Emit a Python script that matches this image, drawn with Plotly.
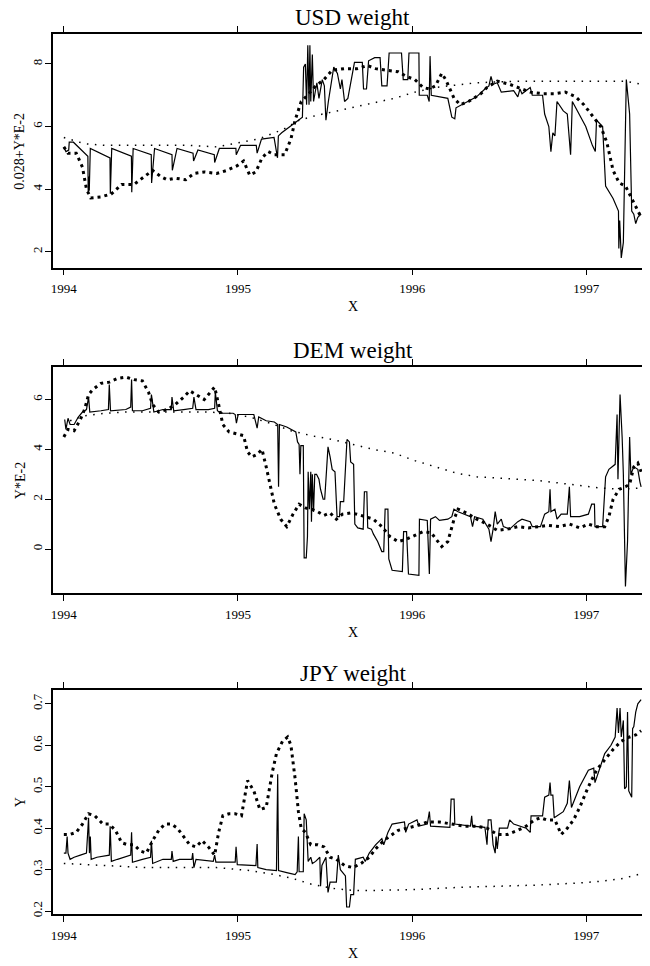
import plotly.graph_objects as go

# ---- USD panel ----
usd_t = [1994.000, 1994.012, 1994.028, 1994.031, 1994.055, 1994.138, 1994.140, 1994.143, 1994.146, 1994.152,
         1994.265, 1994.267, 1994.275, 1994.388, 1994.390, 1994.398, 1994.502, 1994.504, 1994.521, 1994.621,
         1994.623, 1994.650, 1994.742, 1994.745, 1994.770, 1994.864, 1994.866, 1994.893, 1994.988, 1994.990,
         1995.015, 1995.105, 1995.110, 1995.135, 1995.207, 1995.227, 1995.232, 1995.251, 1995.299, 1995.370,
         1995.377, 1995.387, 1995.394, 1995.401, 1995.408, 1995.413, 1995.418, 1995.427, 1995.434, 1995.453,
         1995.465, 1995.484, 1995.496, 1995.505, 1995.519, 1995.536, 1995.550, 1995.571, 1995.588, 1995.597,
         1995.612, 1995.631, 1995.650, 1995.669, 1995.714, 1995.721, 1995.738, 1995.750, 1995.785, 1995.816,
         1995.826, 1995.856, 1995.868, 1995.939, 1995.949, 1995.975, 1995.982, 1996.039, 1996.041, 1996.087,
         1996.098, 1996.103, 1996.110, 1996.157, 1996.205, 1996.228, 1996.245, 1996.252, 1996.299, 1996.347,
         1996.370, 1996.418, 1996.441, 1996.453, 1996.465, 1996.489, 1996.512, 1996.583, 1996.607, 1996.619,
         1996.631, 1996.678, 1996.690, 1996.749, 1996.761, 1996.785, 1996.797, 1996.808, 1996.820, 1996.832,
         1996.868, 1996.891, 1996.910, 1996.920, 1996.950, 1996.997, 1997.035, 1997.052, 1997.059, 1997.094,
         1997.111, 1997.154, 1997.185, 1997.187, 1997.192, 1997.201, 1997.213, 1997.230, 1997.249, 1997.261,
         1997.273, 1997.284, 1997.296, 1997.315]
usd_y = [5.35, 5.2, 5.25, 5.5, 5.5, 5.05, 3.9, 4.4, 3.95, 5.3,
         5.0, 3.85, 5.3, 5.05, 3.9, 5.3, 5.1, 4.2, 5.3, 5.1,
         4.6, 5.3, 5.15, 4.9, 5.25, 5.1, 4.85, 5.3, 5.3, 5.1,
         5.4, 5.4, 5.15, 5.6, 5.65, 5.0, 5.7, 5.8, 6.0, 6.3,
         7.9, 8.0, 6.7, 8.6, 6.7, 8.6, 6.8, 8.3, 6.8, 7.4,
         6.9, 7.5, 7.3, 6.2, 6.8, 7.4, 7.9, 7.7, 7.2, 7.5,
         6.8, 6.9, 7.5, 8.05, 8.05, 7.2, 7.2, 8.1, 8.2, 8.2,
         7.3, 7.3, 8.35, 8.35, 7.5, 7.5, 8.35, 8.35, 7.0, 7.0,
         6.8, 8.25, 7.0, 6.95, 6.9, 6.3, 6.25, 6.6, 6.75, 6.9,
         6.95, 7.2, 7.3, 7.6, 7.35, 7.4, 7.1, 7.15, 6.95, 7.2,
         7.05, 7.25, 7.0, 7.0, 6.4, 6.0, 5.2, 5.8, 5.7, 6.8,
         6.5, 6.4, 5.1, 6.8, 6.5, 6.0, 5.4, 5.2, 6.2, 6.0,
         4.1, 3.7, 3.3, 2.1, 3.0, 1.8, 2.3, 7.5, 6.4, 3.3,
         3.2, 2.9, 3.1, 3.2]

usd_smooth_t = [1994.000, 1994.024, 1994.071, 1994.107, 1994.130, 1994.154, 1994.213, 1994.273, 1994.332, 1994.403,
                1994.462, 1994.510, 1994.557, 1994.593, 1994.640, 1994.700, 1994.747, 1994.806, 1994.877, 1994.937,
                1994.996, 1995.032, 1995.067, 1995.103, 1995.138, 1995.174, 1995.209, 1995.268, 1995.304, 1995.328,
                1995.363, 1995.399, 1995.446, 1995.494, 1995.541, 1995.612, 1995.683, 1995.743, 1995.790, 1995.849,
                1995.920, 1995.968, 1996.016, 1996.063, 1996.099, 1996.134, 1996.170, 1996.193, 1996.217, 1996.241,
                1996.276, 1996.324, 1996.395, 1996.430, 1996.489, 1996.560, 1996.631, 1996.678, 1996.749, 1996.820,
                1996.880, 1996.939, 1996.986, 1997.035, 1997.083, 1997.118, 1997.154, 1997.189, 1997.225, 1997.261,
                1997.296, 1997.315]
usd_smooth_y = [5.35, 5.15, 5.15, 4.7, 4.0, 3.72, 3.75, 3.85, 4.15, 4.15,
                4.4, 4.6, 4.4, 4.3, 4.35, 4.3, 4.5, 4.55, 4.5, 4.6,
                4.75, 4.9, 4.45, 4.55, 5.0, 5.2, 5.1, 5.1, 5.6, 6.2,
                6.8, 7.0, 7.3, 7.5, 7.8, 7.85, 7.85, 7.95, 7.85, 7.8,
                7.75, 7.6, 7.5, 7.25, 7.2, 7.3, 7.7, 7.5, 7.2, 6.9,
                6.7, 6.8, 7.05, 7.25, 7.45, 7.35, 7.2, 7.1, 7.05, 7.05,
                7.1, 6.95, 6.7, 6.35, 6.0, 5.5, 4.6, 4.2, 4.1, 3.7,
                3.3, 3.1]

usd_trend_t = [1994.000, 1994.119, 1994.237, 1994.474, 1994.711, 1994.877, 1994.972, 1995.116, 1995.256, 1995.351,
               1995.446, 1995.659, 1995.896, 1996.016, 1996.134, 1996.371, 1996.608, 1996.845, 1997.082, 1997.225,
               1997.315]
usd_trend_y = [5.65, 5.45, 5.4, 5.4, 5.4, 5.35, 5.45, 5.6, 5.9, 6.2,
               6.35, 6.6, 6.9, 7.1, 7.25, 7.4, 7.45, 7.45, 7.45, 7.45,
               7.35]

# ---- DEM panel ----
dem_t = [1994.005, 1994.012, 1994.024, 1994.036, 1994.059, 1994.083, 1994.107, 1994.130, 1994.142, 1994.149,
         1994.213, 1994.256, 1994.261, 1994.268, 1994.356, 1994.384, 1994.389, 1994.394, 1994.451, 1994.498,
         1994.503, 1994.517, 1994.569, 1994.617, 1994.621, 1994.631, 1994.688, 1994.740, 1994.747, 1994.759,
         1994.830, 1994.866, 1994.870, 1994.882, 1994.901, 1994.972, 1994.984, 1994.991, 1995.001, 1995.091,
         1995.110, 1995.119, 1995.162, 1995.209, 1995.228, 1995.233, 1995.238, 1995.280, 1995.332, 1995.342,
         1995.351, 1995.356, 1995.361, 1995.375, 1995.380, 1995.392, 1995.399, 1995.403, 1995.410, 1995.418,
         1995.422, 1995.427, 1995.434, 1995.441, 1995.451, 1995.465, 1995.474, 1995.489, 1995.498, 1995.508,
         1995.517, 1995.529, 1995.541, 1995.557, 1995.569, 1995.583, 1995.588, 1995.607, 1995.616, 1995.626,
         1995.640, 1995.647, 1995.664, 1995.671, 1995.688, 1995.719, 1995.726, 1995.740, 1995.745, 1995.766,
         1995.778, 1995.802, 1995.826, 1995.837, 1995.845, 1995.861, 1995.866, 1995.885, 1995.944, 1995.951,
         1995.968, 1995.979, 1996.039, 1996.042, 1996.087, 1996.099, 1996.106, 1996.134, 1996.157, 1996.205,
         1996.228, 1996.240, 1996.264, 1996.299, 1996.335, 1996.347, 1996.359, 1996.406, 1996.441, 1996.453,
         1996.465, 1996.477, 1996.489, 1996.512, 1996.524, 1996.560, 1996.607, 1996.631, 1996.678, 1996.690,
         1996.737, 1996.761, 1996.785, 1996.792, 1996.797, 1996.820, 1996.832, 1996.856, 1996.891, 1996.903,
         1996.910, 1996.962, 1997.012, 1997.031, 1997.047, 1997.050, 1997.094, 1997.111, 1997.130, 1997.166,
         1997.177, 1997.182, 1997.194, 1997.206, 1997.213, 1997.225, 1997.237, 1997.249, 1997.256, 1997.273,
         1997.296, 1997.308, 1997.315]
dem_y = [5.2, 4.8, 5.25, 5.0, 5.0, 5.3, 5.5, 5.6, 6.1, 5.5,
         5.55, 5.6, 6.6, 5.55, 5.6, 5.7, 6.8, 5.55, 5.55, 5.65,
         6.2, 5.5, 5.6, 5.6, 6.1, 5.55, 5.6, 5.65, 6.1, 5.6,
         5.6, 5.65, 6.3, 5.55, 5.45, 5.45, 5.4, 5.05, 5.4, 5.4,
         4.85, 5.3, 5.15, 5.1, 5.0, 2.5, 5.0, 4.9, 4.7, 4.3,
         4.2, 3.0, 4.15, 4.15, -0.35, -0.35, 0.5, 3.1, 1.6, 3.1,
         1.1, 3.0, 1.5, 3.0, 3.0, 2.8, 2.4, 2.0, 2.0, 3.0,
         4.1, 3.7, 3.2, 3.1, 1.3, 1.3, 1.9, 1.9, 3.3, 4.4,
         4.3, 3.5, 3.4, 1.0, 0.85, 0.8, 2.3, 2.3, 0.85, 0.8,
         0.6, 0.3, -0.1, -0.1, 1.6, 1.6, -0.4, -0.85, -0.9, 0.7,
         0.7, -1.0, -1.05, 1.2, 1.15, -1.0, 1.2, 1.3, 1.15, 1.2,
         1.3, 1.6, 1.5, 1.4, 1.3, 0.9, 1.3, 1.2, 0.8, 0.3,
         0.8, 1.5, 1.0, 1.2, 0.9, 0.8, 1.1, 1.2, 1.1, 0.9,
         0.9, 1.4, 1.5, 2.4, 1.5, 1.6, 1.2, 1.4, 1.4, 2.5,
         1.3, 1.3, 1.4, 1.8, 1.8, 0.9, 0.9, 2.9, 3.2, 3.4,
         5.4, 2.8, 6.2, 4.5, 3.0, -1.5, 0.3, 4.5, 3.0, 3.3,
         3.2, 2.7, 2.5]

dem_smooth_t = [1994.000, 1994.024, 1994.059, 1994.095, 1994.119, 1994.142, 1994.166, 1994.213, 1994.261, 1994.308,
                1994.356, 1994.403, 1994.451, 1994.486, 1994.510, 1994.545, 1994.593, 1994.640, 1994.688, 1994.723,
                1994.759, 1994.806, 1994.842, 1994.866, 1994.889, 1994.913, 1994.949, 1994.996, 1995.032, 1995.055,
                1995.079, 1995.110, 1995.138, 1995.162, 1995.186, 1995.209, 1995.245, 1995.280, 1995.316, 1995.351,
                1995.387, 1995.422, 1995.458, 1995.494, 1995.529, 1995.565, 1995.600, 1995.648, 1995.683, 1995.731,
                1995.778, 1995.826, 1995.873, 1995.920, 1995.968, 1996.016, 1996.063, 1996.110, 1996.146, 1996.170,
                1996.205, 1996.241, 1996.264, 1996.312, 1996.371, 1996.430, 1996.489, 1996.548, 1996.607, 1996.667,
                1996.726, 1996.785, 1996.845, 1996.904, 1996.963, 1997.012, 1997.059, 1997.106, 1997.130, 1997.154,
                1997.189, 1997.225, 1997.249, 1997.273, 1997.296, 1997.315]
dem_smooth_y = [4.5, 4.8, 4.75, 5.2, 5.6, 6.2, 6.4, 6.65, 6.7, 6.85,
                6.9, 6.8, 6.75, 6.3, 5.8, 5.5, 5.6, 5.8, 6.1, 6.35,
                6.2, 6.0, 6.3, 6.5, 5.8, 5.0, 4.7, 4.6, 4.55, 3.9,
                3.7, 3.8, 4.0, 3.3, 2.5, 1.8, 1.2, 0.9, 1.4, 1.8,
                1.65, 1.6, 1.5, 1.35, 1.45, 1.2, 1.4, 1.45, 1.4, 1.3,
                1.2, 0.9, 0.5, 0.3, 0.4, 0.55, 0.7, 0.65, 0.3, 0.1,
                0.3, 1.2, 1.6, 1.45, 1.2, 1.0, 0.75, 0.8, 0.9, 0.85,
                0.9, 0.95, 0.9, 1.0, 0.85, 1.0, 0.9, 0.9, 1.3, 2.0,
                2.4, 2.5, 2.6, 3.3, 3.45, 3.1]

dem_trend_t = [1994.036, 1994.119, 1994.237, 1994.356, 1994.593, 1994.830, 1994.949, 1995.067, 1995.186, 1995.304,
               1995.422, 1995.541, 1995.659, 1995.778, 1995.896, 1996.016, 1996.134, 1996.252, 1996.371, 1996.489,
               1996.607, 1996.726, 1996.845, 1996.963, 1997.082, 1997.201, 1997.315]
dem_trend_y = [5.15, 5.35, 5.45, 5.5, 5.5, 5.5, 5.45, 5.3, 5.05, 4.75,
               4.55, 4.4, 4.2, 4.0, 3.85, 3.55, 3.3, 3.05, 2.9, 2.85,
               2.8, 2.75, 2.65, 2.55, 2.45, 2.4, 2.45]

# ---- JPY panel ----
jpy_t = [1994.000, 1994.012, 1994.019, 1994.024, 1994.036, 1994.059, 1994.095, 1994.130, 1994.142, 1994.147,
         1994.152, 1994.157, 1994.190, 1994.261, 1994.266, 1994.273, 1994.308, 1994.384, 1994.389, 1994.394,
         1994.451, 1994.498, 1994.503, 1994.510, 1994.569, 1994.617, 1994.621, 1994.628, 1994.664, 1994.735,
         1994.740, 1994.747, 1994.759, 1994.858, 1994.866, 1994.873, 1994.984, 1994.989, 1994.996, 1995.103,
         1995.110, 1995.114, 1995.162, 1995.221, 1995.228, 1995.233, 1995.280, 1995.328, 1995.340, 1995.347,
         1995.351, 1995.375, 1995.380, 1995.392, 1995.403, 1995.418, 1995.427, 1995.446, 1995.470, 1995.474,
         1995.482, 1995.505, 1995.517, 1995.529, 1995.565, 1995.576, 1995.588, 1995.617, 1995.624, 1995.640,
         1995.648, 1995.664, 1995.674, 1995.719, 1995.731, 1995.754, 1995.790, 1995.826, 1995.837, 1995.861,
         1995.885, 1995.956, 1995.963, 1995.980, 1996.028, 1996.039, 1996.087, 1996.099, 1996.106, 1996.217,
         1996.224, 1996.241, 1996.245, 1996.335, 1996.342, 1996.347, 1996.418, 1996.430, 1996.437, 1996.453,
         1996.465, 1996.477, 1996.482, 1996.489, 1996.501, 1996.548, 1996.560, 1996.583, 1996.655, 1996.678,
         1996.683, 1996.749, 1996.761, 1996.785, 1996.792, 1996.797, 1996.808, 1996.816, 1996.868, 1996.891,
         1996.903, 1996.915, 1996.962, 1997.012, 1997.043, 1997.050, 1997.106, 1997.142, 1997.166, 1997.177,
         1997.185, 1997.194, 1997.201, 1997.213, 1997.220, 1997.230, 1997.237, 1997.244, 1997.261, 1997.266,
         1997.273, 1997.284, 1997.296, 1997.315]
jpy_y = [0.34, 0.34, 0.38, 0.34, 0.325, 0.33, 0.335, 0.34, 0.425, 0.34,
         0.38, 0.325, 0.33, 0.335, 0.405, 0.32, 0.325, 0.335, 0.39, 0.318,
         0.325, 0.33, 0.37, 0.315, 0.325, 0.325, 0.345, 0.32, 0.325, 0.325,
         0.34, 0.305, 0.325, 0.32, 0.335, 0.318, 0.318, 0.355, 0.312, 0.31,
         0.362, 0.305, 0.3, 0.298, 0.53, 0.298, 0.293, 0.288, 0.295, 0.38,
         0.295, 0.295, 0.435, 0.42, 0.32, 0.33, 0.315, 0.32, 0.33, 0.26,
         0.31, 0.33, 0.245, 0.27, 0.27, 0.335, 0.3, 0.285, 0.21, 0.21,
         0.24, 0.24, 0.325, 0.33, 0.32, 0.34, 0.36, 0.375, 0.36, 0.39,
         0.41, 0.415, 0.39, 0.41, 0.42, 0.405, 0.41, 0.44, 0.405, 0.402,
         0.47, 0.47, 0.41, 0.405, 0.43, 0.405, 0.402, 0.36, 0.42, 0.42,
         0.36, 0.34, 0.38, 0.35, 0.4, 0.4, 0.42, 0.41, 0.4, 0.39,
         0.43, 0.43, 0.475, 0.48, 0.51, 0.48, 0.48, 0.425, 0.44, 0.46,
         0.515, 0.45, 0.5, 0.54, 0.545, 0.51, 0.58, 0.6, 0.62, 0.69,
         0.63, 0.69, 0.62, 0.66, 0.495, 0.5, 0.68, 0.49, 0.475, 0.64,
         0.645, 0.68, 0.7, 0.71]

jpy_smooth_t = [1994.000, 1994.036, 1994.071, 1994.107, 1994.142, 1994.178, 1994.225, 1994.261, 1994.296, 1994.332,
                1994.368, 1994.403, 1994.439, 1994.474, 1994.510, 1994.545, 1994.581, 1994.617, 1994.652, 1994.688,
                1994.723, 1994.759, 1994.794, 1994.830, 1994.866, 1994.889, 1994.913, 1994.949, 1994.984, 1995.020,
                1995.055, 1995.091, 1995.126, 1995.162, 1995.197, 1995.221, 1995.256, 1995.285, 1995.304, 1995.328,
                1995.347, 1995.363, 1995.387, 1995.418, 1995.458, 1995.494, 1995.529, 1995.565, 1995.612, 1995.660,
                1995.707, 1995.754, 1995.790, 1995.837, 1995.873, 1995.920, 1995.968, 1996.016, 1996.087, 1996.157,
                1996.228, 1996.299, 1996.371, 1996.430, 1996.489, 1996.548, 1996.607, 1996.655, 1996.702, 1996.737,
                1996.773, 1996.820, 1996.856, 1996.891, 1996.927, 1996.962, 1997.012, 1997.059, 1997.106, 1997.154,
                1997.201, 1997.249, 1997.284, 1997.315]
jpy_smooth_y = [0.385, 0.385, 0.39, 0.41, 0.435, 0.43, 0.41, 0.41, 0.395, 0.365,
                0.36, 0.36, 0.345, 0.34, 0.37, 0.395, 0.41, 0.41, 0.4, 0.38,
                0.36, 0.355, 0.37, 0.355, 0.335, 0.39, 0.43, 0.435, 0.435, 0.43,
                0.515, 0.49, 0.445, 0.45, 0.535, 0.58, 0.61, 0.62, 0.6, 0.52,
                0.44, 0.4, 0.39, 0.36, 0.36, 0.355, 0.33, 0.325, 0.31, 0.305,
                0.315, 0.33, 0.35, 0.37, 0.38, 0.395, 0.4, 0.405, 0.415, 0.415,
                0.41, 0.405, 0.405, 0.4, 0.385, 0.385, 0.395, 0.405, 0.42, 0.425,
                0.42, 0.42, 0.385, 0.4, 0.42, 0.45, 0.5, 0.54, 0.565, 0.59,
                0.61, 0.62, 0.625, 0.635]

jpy_trend_t = [1994.000, 1994.237, 1994.474, 1994.711, 1994.877, 1995.067, 1995.186, 1995.304, 1995.422, 1995.541,
               1995.659, 1995.778, 1996.016, 1996.252, 1996.489, 1996.726, 1996.963, 1997.082, 1997.201, 1997.315]
jpy_trend_y = [0.315, 0.31, 0.305, 0.305, 0.305, 0.298, 0.29, 0.28, 0.265, 0.255,
               0.25, 0.25, 0.252, 0.257, 0.26, 0.263, 0.268, 0.272, 0.278, 0.29]

titles = ["USD weight", "DEM weight", "JPY weight"]
ylabels = ["0.028+Y*E-2", "Y*E-2", "Y"]
year_ticks = [1994, 1995, 1996, 1997]
panels = [
    (usd_t, usd_y, usd_smooth_t, usd_smooth_y, usd_trend_t, usd_trend_y, [2, 4, 6, 8], [1.49, 8.96]),
    (dem_t, dem_y, dem_smooth_t, dem_smooth_y, dem_trend_t, dem_trend_y, [0, 2, 4, 6], [-1.77, 7.3]),
    (jpy_t, jpy_y, jpy_smooth_t, jpy_smooth_y, jpy_trend_t, jpy_trend_y,
     [0.2, 0.3, 0.4, 0.5, 0.6, 0.7], [0.192, 0.733]),
]

# the page body adds an 8px margin, so the figure is laid out 8px smaller
OFF = 8
W = 650 - OFF
H = 966 - OFF
frames = [(34, 268.5), (368.3, 595), (692.3, 917.3)]  # panel top/bottom in page pixels
x_left = (51 - OFF) / W

FONT = "Liberation Serif"
fig = go.Figure()
annotations = []
for i, (t, y, st, sy, tt, ty, yt, yr) in enumerate(panels):
    n = "" if i == 0 else str(i + 1)
    xa, ya = "x" + n, "y" + n
    fig.add_trace(go.Scatter(x=tt, y=ty, mode="lines", xaxis=xa, yaxis=ya,
                             line=dict(color="black", width=1.5, dash="1.5px,6.5px")))
    fig.add_trace(go.Scatter(x=st, y=sy, mode="lines", xaxis=xa, yaxis=ya,
                             line=dict(color="black", width=3, dash="3px,4px")))
    fig.add_trace(go.Scatter(x=t, y=y, mode="lines", xaxis=xa, yaxis=ya,
                             line=dict(color="black", width=1.2)))
    top, bot = frames[i][0] - OFF, frames[i][1] - OFF
    dom = [1 - bot / H, 1 - top / H]
    axis_common = dict(showgrid=False, zeroline=False, showline=True, linecolor="black",
                       linewidth=1.5, ticks="outside", ticklen=6, tickwidth=1.2,
                       tickcolor="black", tickfont=dict(family=FONT, size=13, color="black"))
    fig.update_layout(**{
        "xaxis" + n: dict(domain=[x_left, 1], range=[1993.937, 1997.366], tickvals=year_ticks,
                          mirror="ticks", anchor=ya, ticklabelstandoff=2, **axis_common),
        "yaxis" + n: dict(domain=dom, range=yr, tickvals=yt, tickangle=-90, anchor=xa,
                          ticklabelstandoff=-2, **axis_common),
    })
    cx = (352 - OFF) / W
    annotations.append(dict(text=titles[i], x=cx, y=1 - (top - 16.5) / H, xref="paper", yref="paper",
                            showarrow=False, xanchor="center", yanchor="middle",
                            font=dict(family=FONT, size=23, color="black")))
    annotations.append(dict(text="X", x=cx, y=1 - (bot + 39) / H, xref="paper", yref="paper",
                            showarrow=False, xanchor="center", yanchor="middle",
                            font=dict(family=FONT, size=14, color="black")))
    annotations.append(dict(text=ylabels[i], x=(18 - OFF) / W, y=1 - (top + bot) / 2 / H, xref="paper",
                            yref="paper", showarrow=False, textangle=-90, xanchor="center",
                            yanchor="middle", font=dict(family=FONT, size=14, color="black")))

fig.update_layout(width=W, height=H, margin=dict(l=0, r=0, t=0, b=0),
                  plot_bgcolor="white", paper_bgcolor="white", showlegend=False,
                  annotations=annotations)
fig.write_html("out.html")
